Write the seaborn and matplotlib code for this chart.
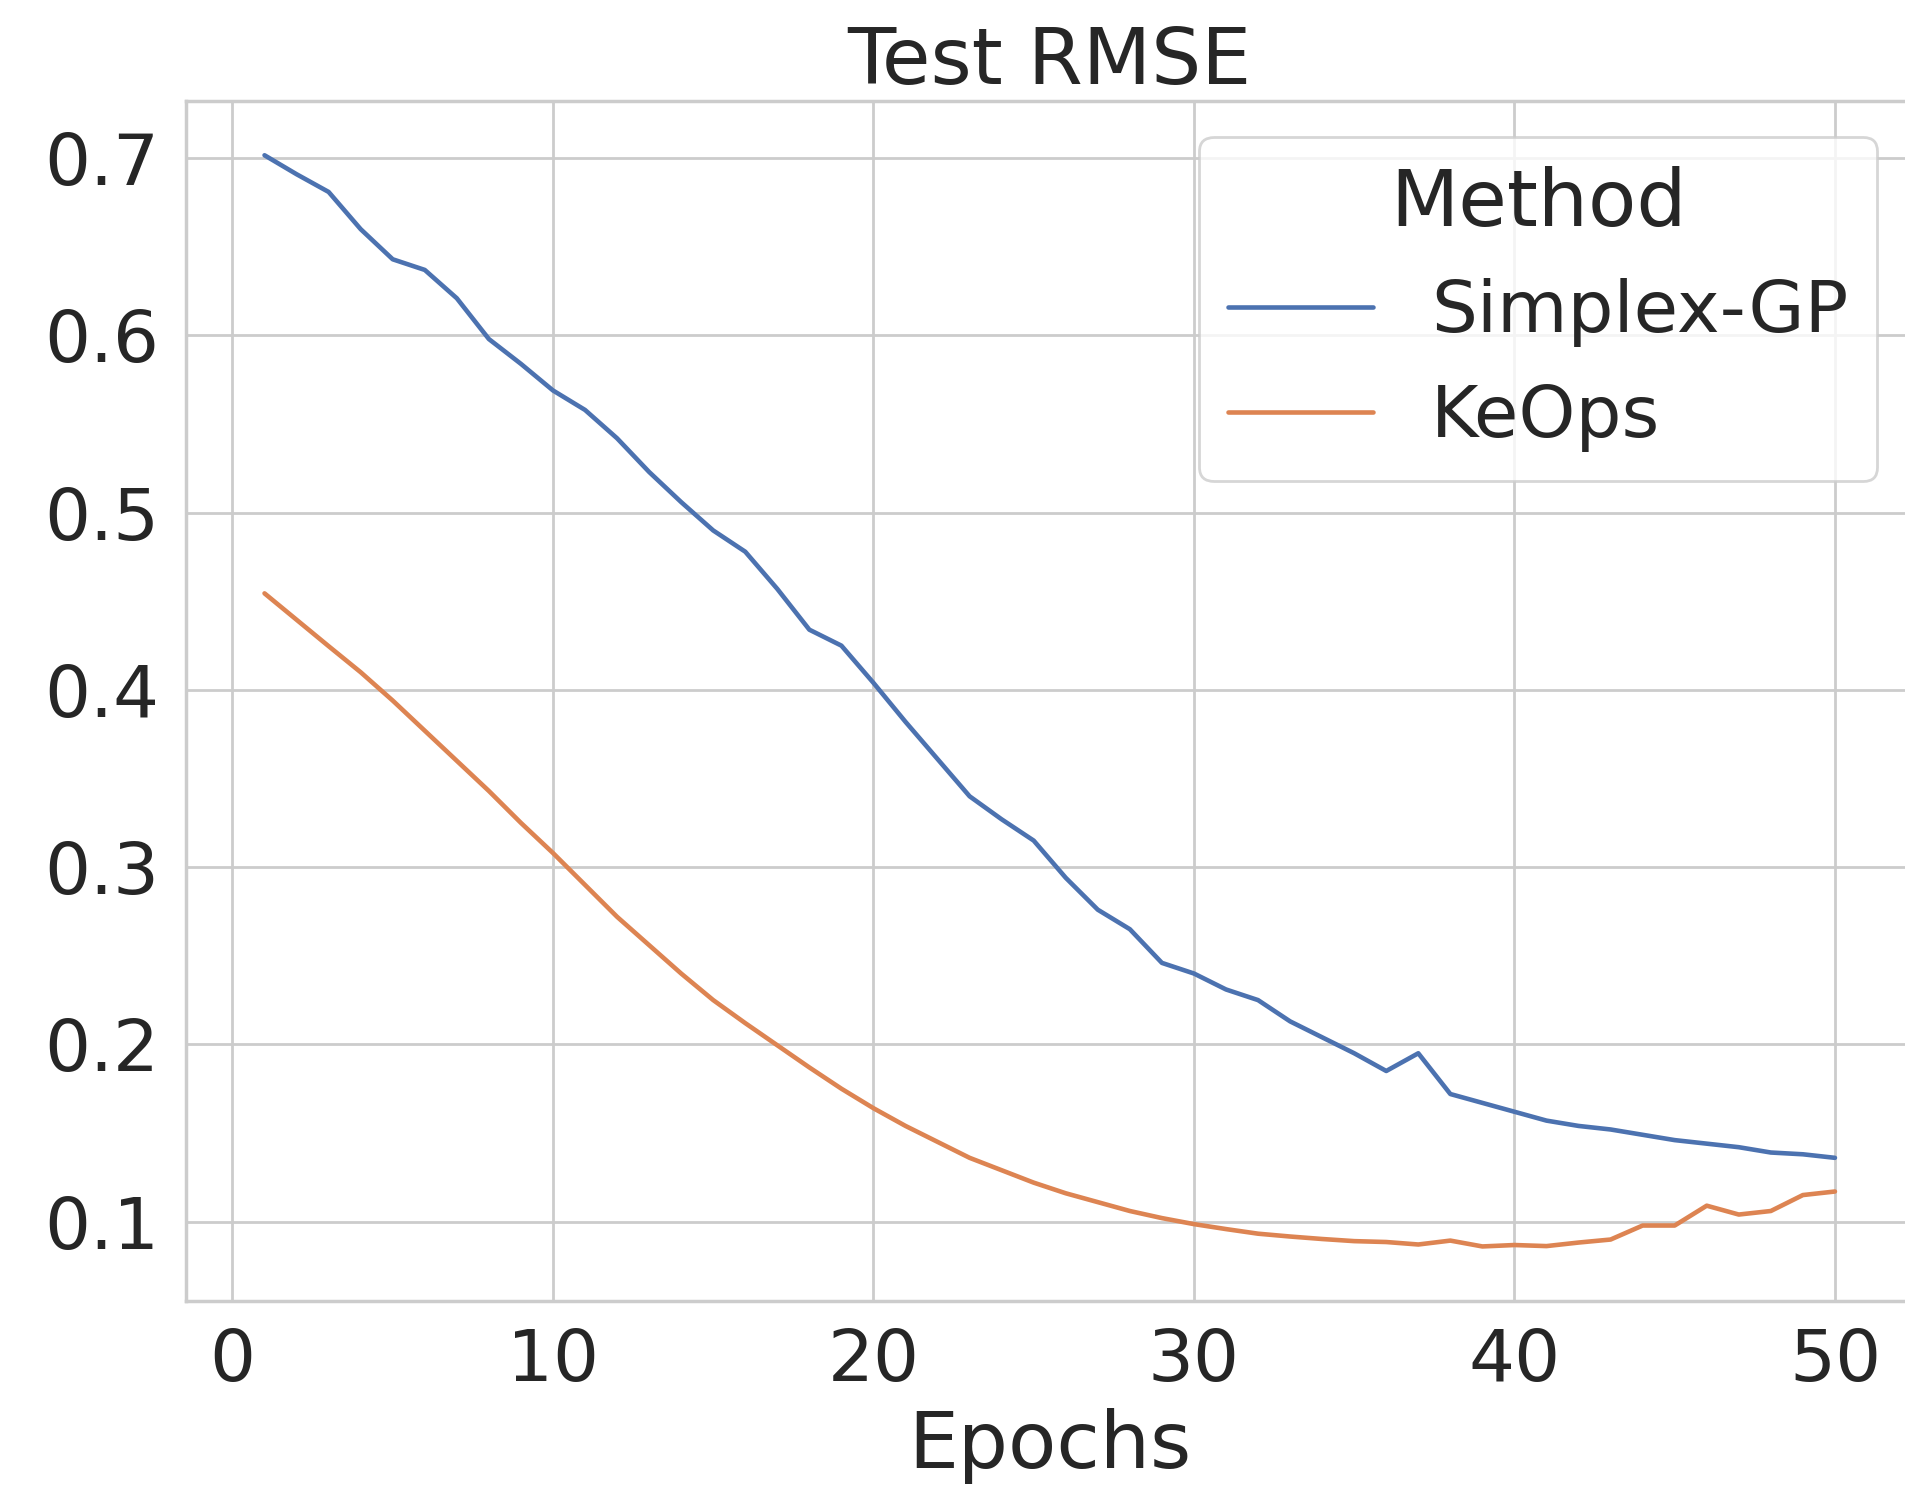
import numpy as np
import pandas as pd
import matplotlib
matplotlib.use("Agg")
import matplotlib.pyplot as plt
import seaborn as sns

epochs = list(range(1, 51))
simplex_gp = [0.7017, 0.691, 0.681, 0.660, 0.643, 0.637, 0.621, 0.598, 0.584, 0.569,
              0.558, 0.542, 0.523, 0.506, 0.490, 0.478, 0.457, 0.434, 0.425, 0.404,
              0.382, 0.361, 0.340, 0.327, 0.315, 0.294, 0.276, 0.265, 0.246, 0.240,
              0.231, 0.225, 0.213, 0.204, 0.195, 0.185, 0.195, 0.172, 0.167, 0.162,
              0.157, 0.154, 0.152, 0.149, 0.146, 0.144, 0.142, 0.139, 0.138, 0.136]
keops = [0.4545, 0.4396, 0.4247, 0.410, 0.394, 0.377, 0.360, 0.343, 0.325, 0.308,
         0.290, 0.272, 0.256, 0.240, 0.225, 0.212, 0.1995, 0.187, 0.175, 0.164,
         0.154, 0.145, 0.136, 0.129, 0.122, 0.116, 0.111, 0.106, 0.102, 0.0986,
         0.0958, 0.0932, 0.0916, 0.0902, 0.0890, 0.0885, 0.0871, 0.0893, 0.0860, 0.0868,
         0.0862, 0.0882, 0.0899, 0.0978, 0.0978, 0.109, 0.104, 0.106, 0.115, 0.117]
methods = ["Simplex-GP", "KeOps"]

df = pd.DataFrame({
    "Epochs": epochs * 2,
    "RMSE": simplex_gp + keops,
    "Method": [methods[0]] * len(epochs) + [methods[1]] * len(epochs),
})

sns.set_theme(style="whitegrid", font_scale=2.37)
plt.rcParams["font.family"] = ["DejaVu Sans"]

fig = plt.figure(figsize=(9.525, 7.435), dpi=200)
ax = fig.add_axes([0.09764, 0.12508, 0.9068, 0.8072])
sns.lineplot(data=df, x="Epochs", y="RMSE", hue="Method", ax=ax, linewidth=1.65)
ax.set_title("Test RMSE")
ax.set_xlabel("Epochs")
ax.set_ylabel("")
ax.set_xticks([0, 10, 20, 30, 40, 50])
ax.set_yticks([0.1, 0.2, 0.3, 0.4, 0.5, 0.6, 0.7])
ax.legend(title="Method", loc="upper right")
fig.savefig("out.png", dpi=200)
